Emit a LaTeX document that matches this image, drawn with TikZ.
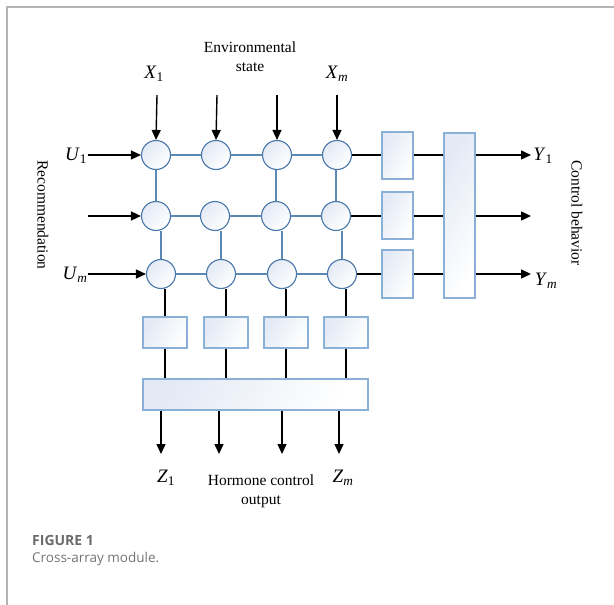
\documentclass[tikz,border=0pt]{standalone}
\usepackage{fontspec}
\setmainfont{Liberation Serif}
\newfontfamily\capfont{Open Sans}
\usetikzlibrary{arrows.meta}
\definecolor{cellline}{HTML}{4A78AA}
\definecolor{gridline}{HTML}{5C88B6}
\definecolor{boxline}{HTML}{8AB0D8}
\definecolor{boxfill}{HTML}{E3EAF5}
\definecolor{framegray}{HTML}{B4B4B4}
\newcommand{\sig}[2]{\textit{#1}\textsubscript{#2}}

\begin{document}
\begin{tikzpicture}[x=1pt, y=-1pt,
    cell/.style={circle, draw=cellline, line width=1.1pt, minimum size=29pt, inner sep=0pt,
      shading=axis, left color=boxfill, right color=white, shading angle=45},
    unit/.style={rectangle, draw=boxline, line width=1.1pt, inner sep=0pt,
      shading=axis, left color=boxfill, right color=white, shading angle=60},
    wire/.style={line width=1.3pt},
    link/.style={draw=gridline, line width=1.2pt},
    feed/.style={line width=1.4pt, -{Triangle[length=10pt, width=9pt]}},
    txt/.style={font=\fontsize{15.5}{19}\selectfont, align=center, inner sep=0pt},
    sym/.style={font=\fontsize{19}{21}\selectfont, inner sep=0pt}]
  %tikz  Cross-array module
    \useasboundingbox (0,0) rectangle (614,605);
    \draw[framegray, line width=1.3pt] (7,605) -- (7,7) -- (614,7);

    % grid of cells
    \node[cell] (c11) at (156,155) {};
    \node[cell] (c12) at (216,155) {};
    \node[cell] (c13) at (277,155) {};
    \node[cell] (c14) at (337,155) {};
    \node[cell] (c21) at (156,216) {};
    \node[cell] (c22) at (215,216) {};
    \node[cell] (c23) at (276,216) {};
    \node[cell] (c24) at (336,216) {};
    \node[cell] (c31) at (161,274) {};
    \node[cell] (c32) at (221,274) {};
    \node[cell] (c33) at (282,274) {};
    \node[cell] (c34) at (342,274) {};

    \draw[link] (c11) -- (c12) -- (c13) -- (c14);
    \draw[link] (c21) -- (c22) -- (c23) -- (c24);
    \draw[link] (c31) -- (c32) -- (c33) -- (c34);
    \draw[link] (c11.south) -- (c21.north);
    \draw[link] (c23.north) -- (c23.north |- c13.south);
    \draw[link] (c24.north) -- (c24.north |- c14.south);
    \draw[link] (c31.north) -- (c31.north |- c21.south);
    \draw[link] (c32.north) -- (c32.north |- c22.south);
    \draw[link] (c33.north) -- (c33.north |- c23.south);
    \draw[link] (c34.north) -- (c34.north |- c24.south);

    % right side units
    \node[unit, minimum width=31pt, minimum height=47pt] (r1) at (397.5,155.5) {};
    \node[unit, minimum width=31pt, minimum height=47pt] (r2) at (397.5,215.5) {};
    \node[unit, minimum width=31pt, minimum height=48pt] (r3) at (397.5,274) {};
    \node[unit, minimum width=31pt, minimum height=165pt] (rs) at (459.5,215.5) {};

    % bottom units
    \node[unit, minimum width=44pt, minimum height=31pt] (b1) at (165,332.5) {};
    \node[unit, minimum width=44pt, minimum height=31pt] (b2) at (226,332.5) {};
    \node[unit, minimum width=44pt, minimum height=31pt] (b3) at (286,332.5) {};
    \node[unit, minimum width=44pt, minimum height=31pt] (b4) at (346,332.5) {};
    \node[unit, minimum width=225pt, minimum height=31pt] (bs) at (255.5,394.5) {};

    \draw[wire] (c14) -- (r1.west |- c14);
    \draw[wire] (c24) -- (r2.west |- c24);
    \draw[wire] (c34) -- (r3.west |- c34);
    \draw[wire] (r1.east |- c14) -- (rs.west |- c14);
    \draw[wire] (r2.east |- c24) -- (rs.west |- c24);
    \draw[wire] (r3.east |- c34) -- (rs.west |- c34);

    \draw[wire] (b1.north) -- (b1.north |- c31.south);
    \draw[wire] (b2.north) -- (b2.north |- c32.south);
    \draw[wire] (b3.north) -- (b3.north |- c33.south);
    \draw[wire] (b4.north) -- (b4.north |- c34.south);
    \draw[wire] (b1.south) -- (b1.south |- bs.north);
    \draw[wire] (b2.south) -- (b2.south |- bs.north);
    \draw[wire] (b3.south) -- (b3.south |- bs.north);
    \draw[wire] (b4.south) -- (b4.south |- bs.north);

    % inputs and outputs
    \coordinate (x1) at (157,95);
    \coordinate (x2) at (217,95);
    \coordinate (x3) at (277,95);
    \coordinate (x4) at (337,95);
    \coordinate (u1) at (88,155);
    \coordinate (u2) at (88,216);
    \coordinate (u3) at (88,274);
    \coordinate (y1) at (531,155);
    \coordinate (y2) at (531,216);
    \coordinate (y3) at (531,274);
    \coordinate (z1) at (161,454);
    \coordinate (z2) at (219,454);
    \coordinate (z3) at (282,454);
    \coordinate (z4) at (339,454);

    \draw[feed] (x1) -- (c11.north);
    \draw[feed] (x2) -- (c12.north);
    \draw[feed] (x3) -- (c13.north);
    \draw[feed] (x4) -- (c14.north);
    \draw[feed] (u1) -- (c11.west);
    \draw[feed] (u2) -- (c21.west);
    \draw[feed] (u3) -- (c31.west);
    \draw[feed] (rs.east |- y1) -- (y1);
    \draw[feed] (rs.east |- y2) -- (y2);
    \draw[feed] (rs.east |- y3) -- (y3);
    \draw[feed] (bs.south -| z1) -- (z1);
    \draw[feed] (bs.south -| z2) -- (z2);
    \draw[feed] (bs.south -| z3) -- (z3);
    \draw[feed] (bs.south -| z4) -- (z4);

    % labels
    \node[txt] (env) at (250,57) {Environmental\\state};
    \node[sym] (lx1) at (154,74) {\sig{X}{1}};
    \node[sym] (lxm) at (337,74) {\sig{X}{\textit{m}}};
    \node[sym] (lu1) at (76,156) {\sig{U}{1}};
    \node[sym] (lum) at (75,275) {\sig{U}{\textit{m}}};
    \node[txt, rotate=-90] (rec) at (43,215) {Recommendation};
    \node[sym] (ly1) at (543,156) {\sig{Y}{1}};
    \node[sym] (lym) at (546,281) {\sig{Y}{\textit{m}}};
    \node[txt, rotate=-90] (ctl) at (577,213) {Control behavior};
    \node[sym] (lz1) at (166,478) {\sig{Z}{1}};
    \node[sym] (lzm) at (343,478) {\sig{Z}{\textit{m}}};
    \node[txt] (hor) at (261,491) {Hormone control\\output};

    % caption
    \node[anchor=west, inner sep=0pt, text=black!58, font=\capfont\bfseries\fontsize{14}{16}\selectfont] (fig) at (32,540) {FIGURE 1};
    \node[anchor=west, inner sep=0pt, text=black!55, font=\capfont\fontsize{13.5}{16}\selectfont] (cap) at (32,559) {Cross-array module.};
  \end{tikzpicture}
\end{document}
